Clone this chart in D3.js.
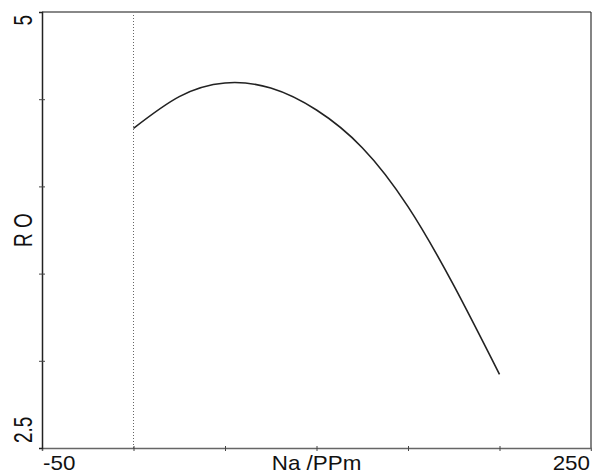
<!DOCTYPE html>
<html>
<head>
<meta charset="utf-8">
<script src="https://cdn.jsdelivr.net/npm/d3@7"></script>
<style>
  html, body { margin: 0; padding: 0; background: #fff; }
  svg { display: block; }
  text { font-family: "Liberation Sans", Arial, sans-serif; fill: #111; }
</style>
</head>
<body>
<svg id="chart" width="592" height="475"></svg>
<script>
// Response of R O to sodium concentration
const naPpm = [0, 25, 50, 75, 100, 125, 150, 175, 200];
const roValues = [4.333, 4.515, 4.593, 4.564, 4.438, 4.222, 3.884, 3.432, 2.922];

const xDomain = [-50, 250];
const yDomain = [2.5, 5];
const xTicks = [0, 50, 100, 150, 200];
const yTicks = [3, 3.5, 4, 4.5];
const xEndLabels = ["-50", "250"];
const yEndLabels = ["2.5", "5"];
const xTitle = "Na /PPm";
const yTitle = "R O";
const markerX = 0;

const svg = d3.select("#chart");
const plotLeft = 42, plotRight = 591, plotTop = 12, plotBottom = 448;

const x = d3.scaleLinear().domain(xDomain).range([plotLeft, plotRight]);
const y = d3.scaleLinear().domain(yDomain).range([plotBottom, plotTop]);

// reference line at zero
svg.append("line")
  .attr("x1", x(markerX)).attr("x2", x(markerX))
  .attr("y1", plotTop).attr("y2", plotBottom)
  .attr("stroke", "#666").attr("stroke-width", 1)
  .attr("stroke-dasharray", "1,2");

// frame
svg.append("line").attr("x1", plotLeft).attr("x2", plotRight).attr("y1", plotTop).attr("y2", plotTop)
  .attr("stroke", "#888").attr("stroke-width", 2);
svg.append("line").attr("x1", plotRight).attr("x2", plotRight).attr("y1", plotTop).attr("y2", plotBottom)
  .attr("stroke", "#333").attr("stroke-width", 1.2);

// bottom axis
const xAxis = svg.append("g")
  .attr("transform", `translate(0,${plotBottom})`)
  .call(d3.axisBottom(x).tickValues(xTicks).tickSize(3).tickFormat(""));
xAxis.select(".domain").attr("stroke", "#666").attr("stroke-width", 1.5);
xAxis.selectAll(".tick line").attr("stroke", "#444").attr("y1", -2).attr("y2", 3);

// left axis
const yAxis = svg.append("g")
  .attr("transform", `translate(${plotLeft},0)`)
  .call(d3.axisLeft(y).tickValues(yTicks).tickSize(3).tickFormat(""));
yAxis.select(".domain").attr("stroke", "#222").attr("stroke-width", 1.5);
yAxis.selectAll(".tick line").attr("stroke", "#444").attr("x1", -3).attr("x2", 3);

// x labels
const xLab = [
  { t: xEndLabels[0], pos: x(xDomain[0]) + 1, anchor: "start" },
  { t: xTitle, pos: x(100), anchor: "middle" },
  { t: xEndLabels[1], pos: x(xDomain[1]) - 1, anchor: "end" }
];
svg.selectAll(".xlab").data(xLab).enter().append("text")
  .attr("class", "xlab")
  .attr("transform", d => `translate(${d.pos},470) scale(1.12,1)`)
  .attr("text-anchor", d => d.anchor)
  .style("font-size", "20px")
  .text(d => d.t);

// y labels (rotated)
const yLab = [
  { t: yEndLabels[1], pos: y(yDomain[1]) + 3, anchor: "end" },
  { t: yTitle, pos: (plotTop + plotBottom) / 2, anchor: "middle" },
  { t: yEndLabels[0], pos: y(yDomain[0]) - 5, anchor: "start" }
];
svg.selectAll(".ylab").data(yLab).enter().append("text")
  .attr("class", "ylab")
  .attr("transform", d => `translate(32,${d.pos}) scale(1.35,1) rotate(-90)`)
  .attr("text-anchor", d => d.anchor)
  .style("font-size", "19px")
  .text(d => d.t);

// response curve
const line = d3.line()
  .x((d, i) => x(naPpm[i]))
  .y(d => y(d))
  .curve(d3.curveNatural);
svg.append("path")
  .datum(roValues)
  .attr("d", line)
  .attr("fill", "none")
  .attr("stroke", "#222")
  .attr("stroke-width", 1.6);
</script>
</body>
</html>
